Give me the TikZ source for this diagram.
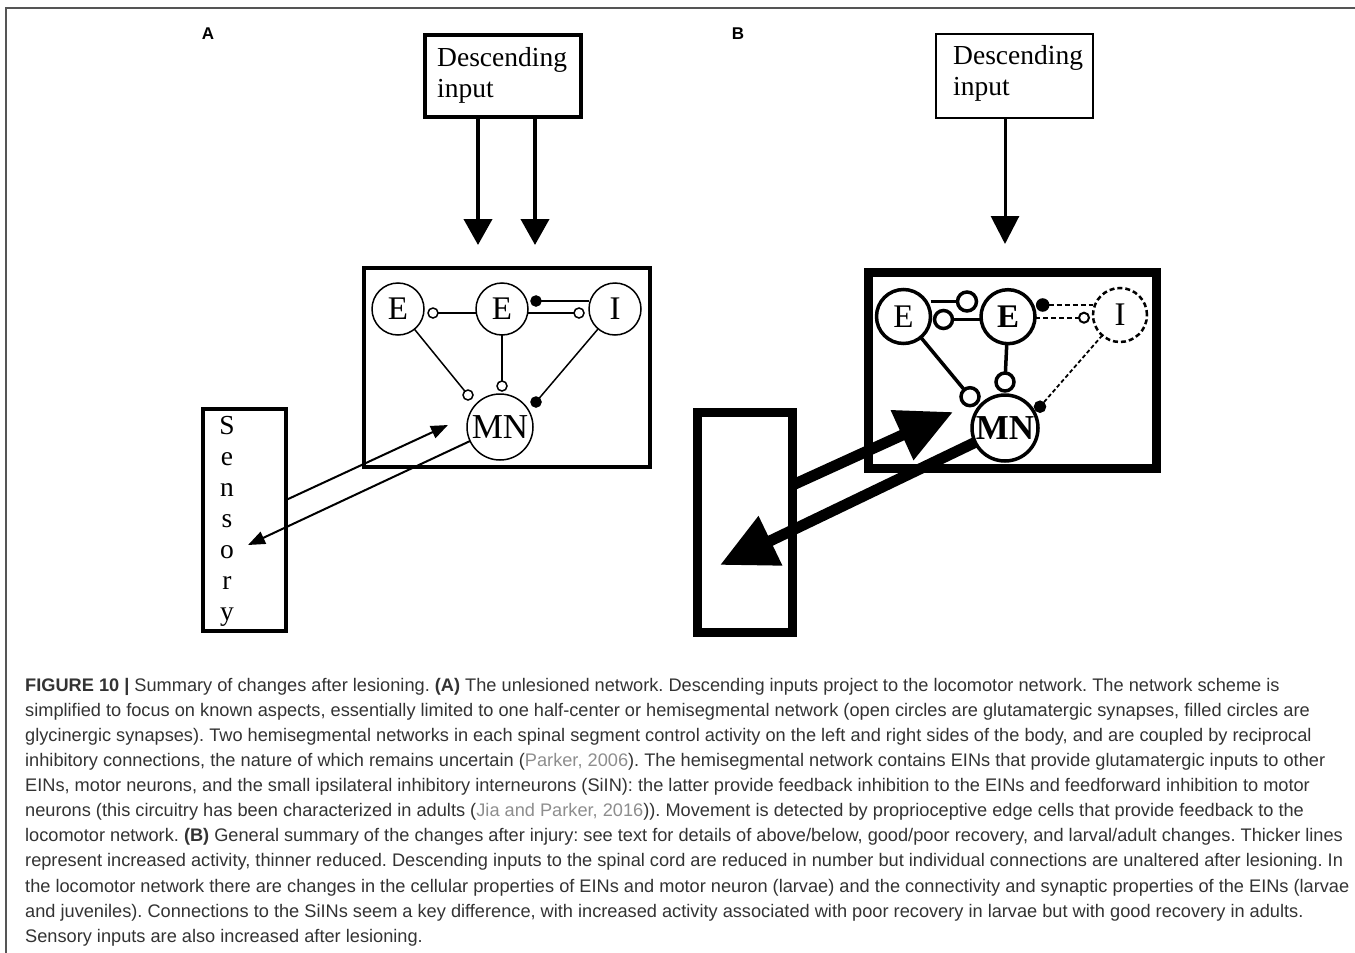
\documentclass[tikz,border=0pt]{standalone}
\usepackage{fontspec}
\setmainfont{Liberation Serif}
\newfontfamily\capfont{Liberation Sans}
\usetikzlibrary{arrows.meta}
\definecolor{captxt}{HTML}{333333}
\definecolor{citecol}{HTML}{8E8E8E}
\definecolor{framecol}{HTML}{555555}
\frenchspacing
\begin{document}
\begin{tikzpicture}[x=1pt,y=-1pt,
  box/.style={draw, rectangle, inner sep=0pt, outer sep=0pt},
  neuronA/.style={draw, circle, line width=1.5pt, inner sep=0pt, outer sep=0pt, minimum size=52pt, font=\fontsize{33}{33}\selectfont},
  neuronB/.style={draw, circle, line width=3.5pt, inner sep=0pt, outer sep=0pt, minimum size=54pt, font=\fontsize{33}{33}\selectfont},
  synopen/.style={draw, circle, fill=white, inner sep=0pt, outer sep=0pt, minimum size=#1},
  synfill/.style={draw, circle, fill=black, inner sep=0pt, outer sep=0pt, minimum size=#1},
  thinA/.style={line width=1.5pt},
  thickB/.style={line width=3.5pt},
  dashB/.style={line width=2pt, dash pattern=on 5pt off 3pt},
  desctext/.style={anchor=base west, inner sep=0pt, font=\fontsize{27.5}{27.5}\selectfont},
  capline/.style={anchor=base west, inner sep=0pt, text=captxt, font=\capfont\fontsize{18.2}{20}\selectfont},
  panellbl/.style={inner sep=0pt, font=\capfont\bfseries\fontsize{17}{17}\selectfont}
]
\useasboundingbox (0,0) rectangle (1355,953);
\fill[white] (0,0) rectangle (1355,953);
% frame
\coordinate (f1) at (1355,8);
\coordinate (f2) at (6,8);
\coordinate (f3) at (6,953);
\draw[framecol, line width=1.5pt] (f1) -- (f2) -- (f3);

% ---------- Panel A ----------
\node[panellbl] (lblA) at (208,34) {A};
\node[box, line width=4pt, minimum width=156pt, minimum height=82pt] (descA) at (503,76) {};
\node[desctext] (descA1) at (437,66) {Descending};
\node[desctext] (descA2) at (437,97) {input};
\node[box, line width=4pt, minimum width=286pt, minimum height=199pt] (netA) at (507,367.5) {};
\node[box, line width=4pt, minimum width=83pt, minimum height=222pt] (sensA) at (244.5,520) {};
\node[inner sep=0pt, align=center, font=\fontsize{27.5}{31}\selectfont] (senstxt) at (227,521) {S\\e\\n\\s\\o\\r\\y};

\draw[line width=4pt, -{Triangle[length=26pt,width=28pt]}] ([xshift=-25pt]descA.south) -- ([xshift=-29pt,yshift=23pt]netA.north);
\draw[line width=4pt, -{Triangle[length=26pt,width=28pt]}] ([xshift=32pt]descA.south) -- ([xshift=28pt,yshift=23pt]netA.north);

\node[neuronA] (E1A) at (398,309) {E};
\node[neuronA] (E2A) at (502,309) {E};
\node[neuronA] (IA) at (615,309) {I};
\node[neuronA, minimum size=66pt, font=\fontsize{35}{35}\selectfont] (MNA) at (500,427) {MN};

\node[synopen=10pt, line width=1.5pt] (oa1) at (433,313) {};
\node[synfill=10pt, line width=1.5pt] (fa1) at (536,301) {};
\node[synopen=10pt, line width=1.5pt] (oa2) at (579,313) {};
\node[synopen=10pt, line width=1.5pt] (oa3) at (468,395) {};
\node[synopen=10pt, line width=1.5pt] (oa4) at (502,386) {};
\node[synfill=10pt, line width=1.5pt] (fa2) at (536,402) {};

\draw[thinA] (oa1) -- (oa1 -| E2A.west);
\draw[thinA] (fa1) -- (fa1 -| IA.west);
\draw[thinA] (oa2 -| E2A.east) -- (oa2);
\draw[thinA] (E1A) -- (oa3);
\draw[thinA] (E2A) -- (oa4);
\draw[thinA] (IA) -- (fa2);

\coordinate (tA1) at (448,425);
\coordinate (tA2) at (248,545);
\draw[line width=2pt, -{Triangle[length=17pt,width=13pt]}] ([yshift=20pt]sensA.east) -- (tA1);
\draw[line width=2pt, -{Triangle[length=17pt,width=13pt]}] (MNA) -- (tA2);

% ---------- Panel B ----------
\node[panellbl] (lblB) at (738,34) {B};
\node[box, line width=2.5pt, minimum width=157pt, minimum height=84pt] (descB) at (1014.5,76) {};
\node[desctext] (descB1) at (953,64) {Descending};
\node[desctext] (descB2) at (953,95) {input};
\node[box, line width=9pt, minimum width=288pt, minimum height=196pt] (netB) at (1012,370) {};
\node[box, line width=9pt, minimum width=95.5pt, minimum height=220pt] (sensB) at (745,522.5) {};

\draw[line width=3pt, -{Triangle[length=28pt,width=28pt]}] ([xshift=-9.5pt]descB.south) -- ([xshift=-7pt,yshift=28pt]netB.north);

\node[neuronB] (E1B) at (903.5,316.5) {E};
\node[neuronB, font=\fontsize{33}{33}\selectfont\bfseries] (E2B) at (1008,316.7) {E};
\node[neuronB, line width=2.5pt, dash pattern=on 5pt off 3pt] (IB) at (1120,315) {I};
\node[neuronB, minimum size=66pt, font=\fontsize{35}{35}\selectfont\bfseries] (MNB) at (1005,428) {MN};

\node[synopen=19pt, line width=3.5pt] (ob1) at (967,301.5) {};
\node[synopen=18pt, line width=3.5pt] (ob2) at (943.5,319.5) {};
\node[synfill=12pt, line width=1.5pt] (fb1) at (1042.7,305) {};
\node[synopen=10pt, line width=2pt] (ob3) at (1084,317.7) {};
\node[synopen=18pt, line width=3.5pt] (ob4) at (970,396.7) {};
\node[synopen=18pt, line width=3.5pt] (ob5) at (1005,382) {};
\node[synfill=11pt, line width=1.5pt] (fb2) at (1040,406.7) {};

\draw[thickB] (ob1 -| E1B.east) -- (ob1);
\draw[thickB] (ob2) -- (ob2 -| E2B.west);
\draw[dashB] (fb1) -- (fb1 -| IB.west);
\draw[dashB] (ob3 -| E2B.east) -- (ob3);
\draw[thickB] (E1B) -- (ob4);
\draw[thickB] (E2B) -- (ob5);
\draw[line width=1.8pt, dash pattern=on 4pt off 2.5pt] (IB) -- (fb2);

\coordinate (tB1) at (953,412);
\coordinate (tB2) at (720,565);
\draw[line width=11pt, -{Triangle[length=56pt,width=52pt]}] ([yshift=37.5pt]sensB.east) -- (tB1);
\draw[line width=11pt, -{Triangle[length=56pt,width=52pt]}] (MNB) -- (tB2);

% ---------- Caption ----------
\node[capline] (c1) at (25,691) {\textbf{FIGURE 10 |} Summary of changes after lesioning. \textbf{(A)} The unlesioned network. Descending inputs project to the locomotor network. The network scheme is};
\node[capline] (c2) at (25,716) {simplified to focus on known aspects, essentially limited to one half-center or hemisegmental network (open circles are glutamatergic synapses, filled circles are};
\node[capline] (c3) at (25,741) {glycinergic synapses). Two hemisegmental networks in each spinal segment control activity on the left and right sides of the body, and are coupled by reciprocal};
\node[capline] (c4) at (25,766) {inhibitory connections, the nature of which remains uncertain (\textcolor{citecol}{Parker, 2006}). The hemisegmental network contains EINs that provide glutamatergic inputs to other};
\node[capline] (c5) at (25,791) {EINs, motor neurons, and the small ipsilateral inhibitory interneurons (SiIN): the latter provide feedback inhibition to the EINs and feedforward inhibition to motor};
\node[capline] (c6) at (25,816) {neurons (this circuitry has been characterized in adults (\textcolor{citecol}{Jia and Parker, 2016})). Movement is detected by proprioceptive edge cells that provide feedback to the};
\node[capline] (c7) at (25,841) {locomotor network. \textbf{(B)} General summary of the changes after injury: see text for details of above/below, good/poor recovery, and larval/adult changes. Thicker lines};
\node[capline] (c8) at (25,866) {represent increased activity, thinner reduced. Descending inputs to the spinal cord are reduced in number but individual connections are unaltered after lesioning. In};
\node[capline] (c9) at (25,892) {the locomotor network there are changes in the cellular properties of EINs and motor neuron (larvae) and the connectivity and synaptic properties of the EINs (larvae};
\node[capline] (c10) at (25,917) {and juveniles). Connections to the SiINs seem a key difference, with increased activity associated with poor recovery in larvae but with good recovery in adults.};
\node[capline] (c11) at (25,942) {Sensory inputs are also increased after lesioning.};
\end{tikzpicture}
\end{document}
